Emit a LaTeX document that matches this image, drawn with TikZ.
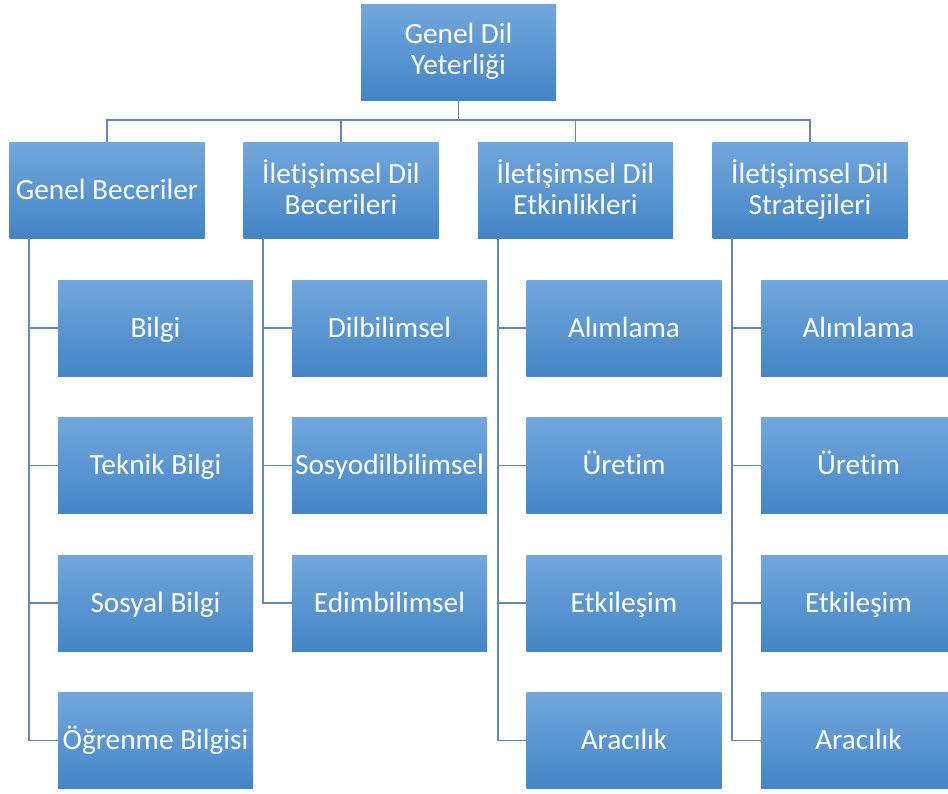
\documentclass[tikz,border=0pt]{standalone}
\usepackage{fontspec}
\setmainfont{Carlito}[Ligatures=NoCommon]
\usetikzlibrary{calc}
\definecolor{boxtop}{HTML}{72A7DC}
\definecolor{boxmid}{HTML}{569BDB}
\definecolor{boxbot}{HTML}{4385C6}
\definecolor{linkc}{HTML}{6388B3}
% fixed-height strut so every label sits at the same height in its box
\newcommand\labelstrut{\rule[-6.2pt]{0pt}{31pt}}
\tikzset{
  box/.style={rectangle, minimum width=195pt, minimum height=96pt, inner sep=0pt,
    top color=boxtop, middle color=boxmid, bottom color=boxbot, draw=none,
    text=white, align=center, font=\fontsize{29.3}{31}\selectfont,
    execute at begin node=\labelstrut, execute at end node=\labelstrut},
  link/.style={draw=linkc, line width=1.8pt},
}
\begin{document}
\begin{tikzpicture}[x=1pt,y=-1pt]
\clip (0,0) rectangle (948,793);
\useasboundingbox (0,0) rectangle (948,793);

% root and first level
\node[box] (root) at (458.5,52) {Genel Dil\\Yeterliği};
\node[box] (gb) at (107,190) {Genel Beceriler};
\node[box] (idb) at (341,190) {İletişimsel Dil\\Becerileri};
\node[box] (ide) at (575.5,190) {İletişimsel Dil\\Etkinlikleri};
\node[box] (ids) at (810,190) {İletişimsel Dil\\Stratejileri};

% second level
\node[box] (gb1) at (155.5,328) {Bilgi};
\node[box] (gb2) at (155.5,465.5) {Teknik Bilgi};
\node[box] (gb3) at (155.5,603) {Sosyal Bilgi};
\node[box] (gb4) at (155.5,740.5) {Öğrenme Bilgisi};

\node[box] (idb1) at (389.5,328) {Dilbilimsel};
\node[box] (idb2) at (389.5,465.5) {Sosyodilbilimsel};
\node[box] (idb3) at (389.5,603) {Edimbilimsel};

\node[box] (ide1) at (624,328) {Alımlama};
\node[box] (ide2) at (624,465.5) {Üretim};
\node[box] (ide3) at (624,603) {Etkileşim};
\node[box] (ide4) at (624,740.5) {Aracılık};

\node[box] (ids1) at (858.5,328) {Alımlama};
\node[box] (ids2) at (858.5,465.5) {Üretim};
\node[box] (ids3) at (858.5,603) {Etkileşim};
\node[box] (ids4) at (858.5,740.5) {Aracılık};

% root to first level
\coordinate (bar) at ($(root.south)+(0,20)$);
\foreach \c in {gb,idb,ide,ids}
  \draw[link] (root.south) -- (bar) -| (\c.north);

% first level to children
\foreach \p/\kids in {gb/{gb1,gb2,gb3,gb4}, idb/{idb1,idb2,idb3},
                      ide/{ide1,ide2,ide3,ide4}, ids/{ids1,ids2,ids3,ids4}}{
  \coordinate (\p-trunk) at ($(\p.south west)+(20,0)$);
  \foreach \k in \kids
    \draw[link] (\p-trunk) |- (\k.west);
}
\end{tikzpicture}
\end{document}
